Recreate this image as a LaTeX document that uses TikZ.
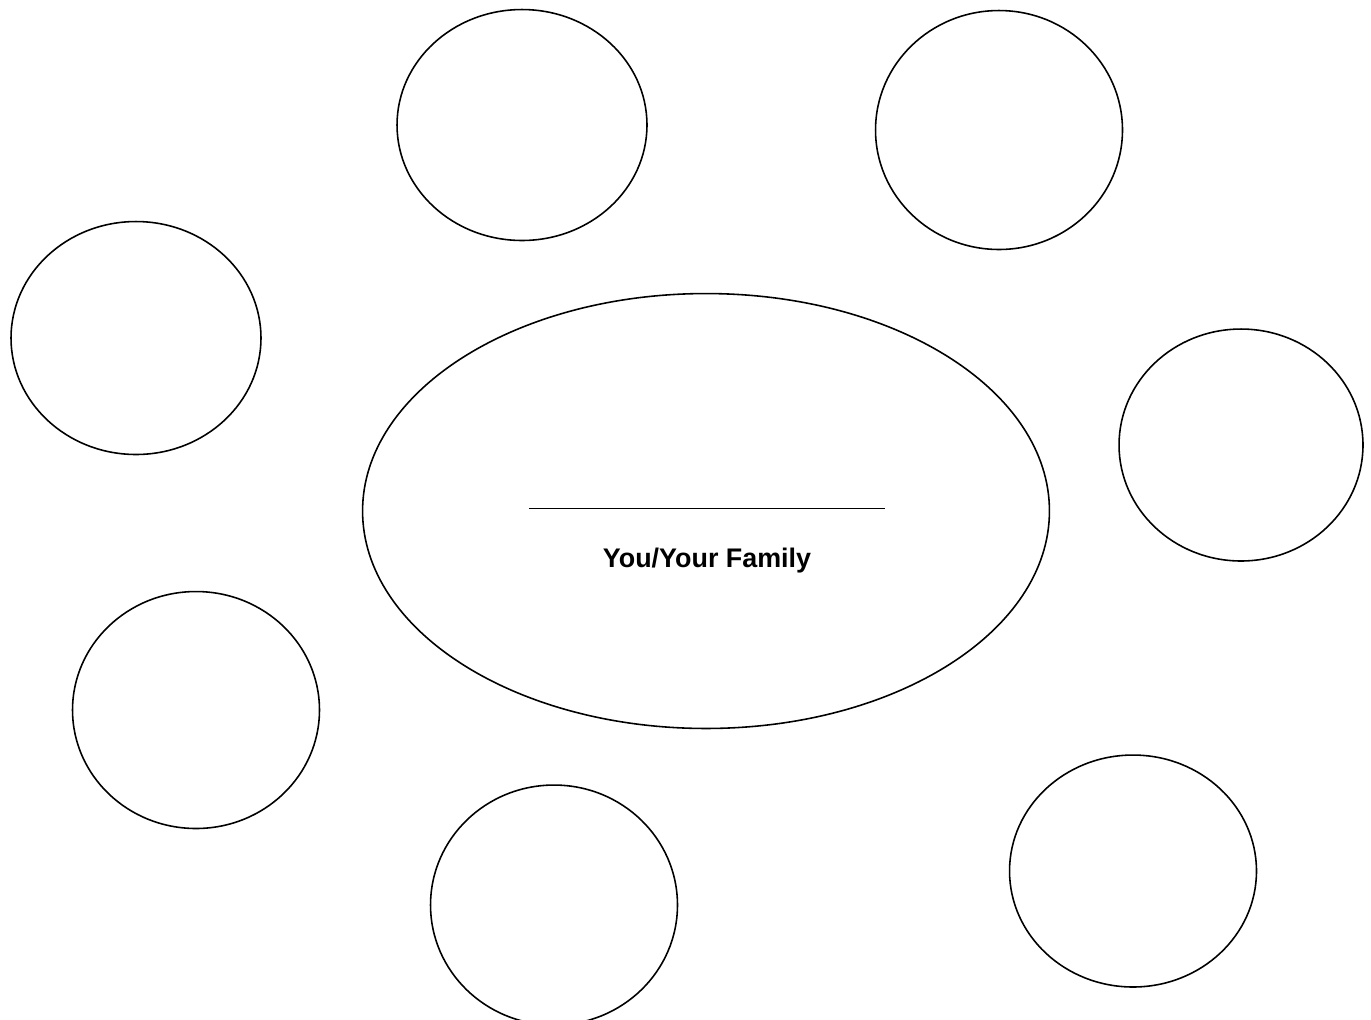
\documentclass[tikz,border=0pt]{standalone}
\usepackage{fontspec}
\setmainfont{Liberation Sans}
\usetikzlibrary{shapes.geometric}
\tikzset{
    bubble/.style={ellipse, draw, line width=0.9pt, inner sep=0pt},
    family/.style={font=\fontsize{15.3}{18}\selectfont\bfseries}
}

\begin{document}
\begin{tikzpicture}[x=0.02cm, y=-0.02cm]
    % Khung hình theo kích thước ảnh gốc
    \useasboundingbox (0,0) rectangle (1371,1019);

    % Hình elip lớn ở giữa
    \node[bubble, minimum width=13.74cm, minimum height=8.7cm] (center) at (706,511) {};

    % Đường kẻ trống để viết tên
    \coordinate (blankL) at (529,508);
    \coordinate (blankR) at (885,508);
    \draw[line width=0.5pt] (blankL) -- (blankR);

    % Chữ "You/Your Family"
    \node[family] (you) at (707,561) {You/Your Family};

    % Các vòng tròn xung quanh
    \node[bubble, minimum width=5cm, minimum height=4.62cm] (topleft) at (522,125) {};
    \node[bubble, minimum width=4.94cm, minimum height=4.78cm] (topright) at (999,130) {};
    \node[bubble, minimum width=5cm, minimum height=4.66cm] (left) at (136,338) {};
    \node[bubble, minimum width=4.88cm, minimum height=4.64cm] (right) at (1241,445) {};
    \node[bubble, minimum width=4.94cm, minimum height=4.74cm] (lowleft) at (196,710) {};
    \node[bubble, minimum width=4.94cm, minimum height=4.8cm] (bottom) at (554,905) {};
    \node[bubble, minimum width=4.94cm, minimum height=4.64cm] (lowright) at (1133,871) {};
\end{tikzpicture}
\end{document}
